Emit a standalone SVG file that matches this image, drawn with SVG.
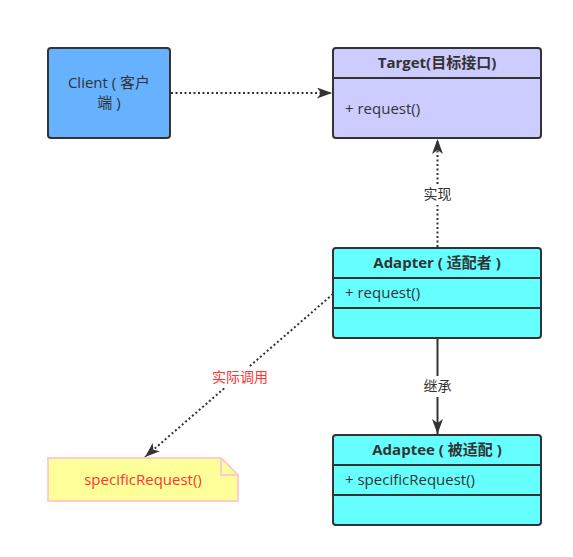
<svg xmlns="http://www.w3.org/2000/svg" width="573" height="557" viewBox="0 0 573 557">
<style>
.box{stroke:#333;stroke-width:2}
.t{font-family:"Open Sans","Noto Sans CJK SC",sans-serif;font-size:15px;fill:#333}
.b{font-weight:bold}
.dot{fill:none;stroke:#333;stroke-width:2;stroke-dasharray:2 2.5}
.sol{fill:none;stroke:#333;stroke-width:2}
.lbl{font-family:"Open Sans","Noto Sans CJK SC",sans-serif;font-size:14px;fill:#333}
</style>
<defs>
<marker id="ah" markerWidth="16" markerHeight="11" refX="15" refY="5.5" orient="auto" markerUnits="userSpaceOnUse">
<path d="M0,0 L15,5.5 L0,11 L4,5.5 Z" fill="#333"/>
</marker>
</defs>
<rect width="573" height="557" fill="#fff"/>
<g id="connectors">
<line class="dot" x1="171" y1="93" x2="332" y2="93" marker-end="url(#ah)"/>
<line class="dot" x1="437.5" y1="247" x2="437.5" y2="139" marker-end="url(#ah)"/>
<rect x="418" y="184" width="40" height="21" fill="#fff"/>
<text class="lbl" x="437.5" y="199" text-anchor="middle">实现</text>
<line class="sol" x1="437.5" y1="339" x2="437.5" y2="434" marker-end="url(#ah)"/>
<rect x="418" y="376" width="40" height="21" fill="#fff"/>
<text class="lbl" x="437.5" y="391" text-anchor="middle">继承</text>
<line class="dot" x1="333" y1="294" x2="145" y2="457" marker-end="url(#ah)"/>
<rect x="208" y="367" width="66" height="21" fill="#fff"/>
<text class="lbl" x="240" y="382" text-anchor="middle" style="fill:#ff3333">实际调用</text>
</g>
<g id="client">
<rect class="box" x="48" y="48" width="122" height="90" rx="3" fill="#66b2ff"/>
<text class="t" x="109" y="88" text-anchor="middle">Client ( 客户</text>
<text class="t" x="109" y="108" text-anchor="middle">端 )</text>
</g>
<g id="target">
<rect class="box" x="333" y="48" width="208" height="90" rx="3" fill="#ccccff"/>
<line class="sol" x1="333" y1="78" x2="541" y2="78"/>
<text class="t b" x="437" y="68" text-anchor="middle">Target(目标接口)</text>
<text class="t" x="345" y="114">+ request()</text>
</g>
<g id="adapter">
<rect class="box" x="333" y="248" width="208" height="90" rx="3" fill="#66ffff"/>
<line class="sol" x1="333" y1="278" x2="541" y2="278"/>
<line class="sol" x1="333" y1="308" x2="541" y2="308"/>
<text class="t b" x="437" y="268" text-anchor="middle">Adapter ( 适配者 )</text>
<text class="t" x="345" y="298">+ request()</text>
</g>
<g id="adaptee">
<rect class="box" x="333" y="435" width="208" height="90" rx="3" fill="#66ffff"/>
<line class="sol" x1="333" y1="465" x2="541" y2="465"/>
<line class="sol" x1="333" y1="495" x2="541" y2="495"/>
<text class="t b" x="437" y="455" text-anchor="middle">Adaptee ( 被适配 )</text>
<text class="t" x="345" y="485">+ specificRequest()</text>
</g>
<g id="note">
<path d="M48,458 L221,458 L238,475 L238,501 L48,501 Z" fill="#ffff99" stroke="#ffcccc" stroke-width="2"/>
<path d="M221,458 L221,475 L238,475" fill="none" stroke="#ffcccc" stroke-width="2"/>
<text class="t" x="143" y="485" text-anchor="middle" style="fill:#ff3333">specificRequest()</text>
</g>
</svg>
